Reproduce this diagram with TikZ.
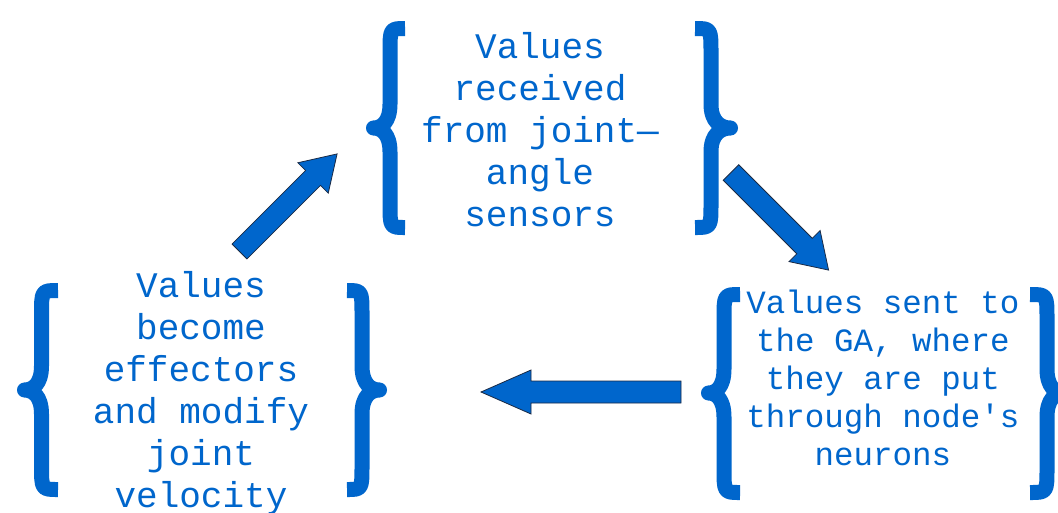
\documentclass[tikz,border=0pt]{standalone}
\usepackage{fontspec}
\setmonofont{Liberation Mono}
\definecolor{cblue}{HTML}{0066CC}
\definecolor{cline}{HTML}{1A2A44}
\newcommand\mybrace[6]{% #1 end x, #2 stem x, #3 knob x, #4 top y, #5 bottom y, #6 mid y
  \draw[bracestyle] ({#1},{#4+7.5}) .. controls ({#2},{#4+7.5}) .. ({#2},{#4+32})
    -- ({#2},{#6-24}) .. controls ({#2},{#6-6}) and ({(#2+#3)/2},{#6}) .. ({#3},{#6})
    .. controls ({(#2+#3)/2},{#6}) and ({#2},{#6+6}) .. ({#2},{#6+24})
    -- ({#2},{#5-32}) .. controls ({#2},{#5-7.5}) .. ({#1},{#5-7.5});}
\newcommand\myarrow[6]{% #1 tail coord name, #2 angle, #3 length, #4 head length, #5 head half width, #6 shaft half width
  \begin{scope}[shift={(#1)}, rotate=#2]
    \draw[arrowstyle] (0,{-#6}) -- ({#3-#4},{-#6}) -- ({#3-#4},{-#5}) -- ({#3},0)
      -- ({#3-#4},{#5}) -- ({#3-#4},{#6}) -- (0,{#6}) -- cycle;
  \end{scope}}
\tikzset{
  bracestyle/.style={draw=cblue, line width=15pt, line join=round, line cap=butt},
  arrowstyle/.style={fill=cblue, draw=cline, line width=0.8pt, line join=miter},
  lbl/.style={text=cblue, align=center, inner sep=0pt, anchor=north},
  bigfont/.style={font=\ttfamily\fontsize{36}{42}\selectfont},
  smallfont/.style={font=\ttfamily\fontsize{32.5}{38}\selectfont}
}
\begin{document}
\begin{tikzpicture}[x=1pt,y=-1pt]
\useasboundingbox (0,0) rectangle (1058,512);
\fill[white] (0,0) rectangle (1058,512);
\begin{scope}
\clip (0,0) rectangle (1058,512);
% braces
\mybrace{405}{390}{373.5}{21}{235}{128}
\mybrace{695}{711}{730.5}{21}{235}{128}
\mybrace{740}{724}{708.5}{287}{500}{393}
\mybrace{1030}{1047}{1063.5}{287}{500}{393}
\mybrace{58}{41.5}{24.5}{283}{497}{390}
\mybrace{347}{362}{379.5}{283}{497}{390}
% texts
\node[lbl, bigfont] (top) at (540,28.6) {\strut Values\\received\\from joint—\\angle\\sensors};
\node[lbl, smallfont] (right) at (883,286.4) {\strut Values sent to\\the GA, where\\they are put\\through node's\\neurons};
\node[lbl, bigfont] (left) at (201,267.6) {\strut Values\\become\\effectors\\and modify\\joint\\velocity};
% arrows
\coordinate (a1) at (239.5,251.5);
\coordinate (a2) at (731,172.5);
\coordinate (a3) at (681,392);
\myarrow{a1}{45}{138}{34}{21.5}{10.5}
\myarrow{a2}{-45}{138}{34}{22}{11}
\myarrow{a3}{180}{200}{50}{22}{11}
\end{scope}
\end{tikzpicture}
\end{document}
